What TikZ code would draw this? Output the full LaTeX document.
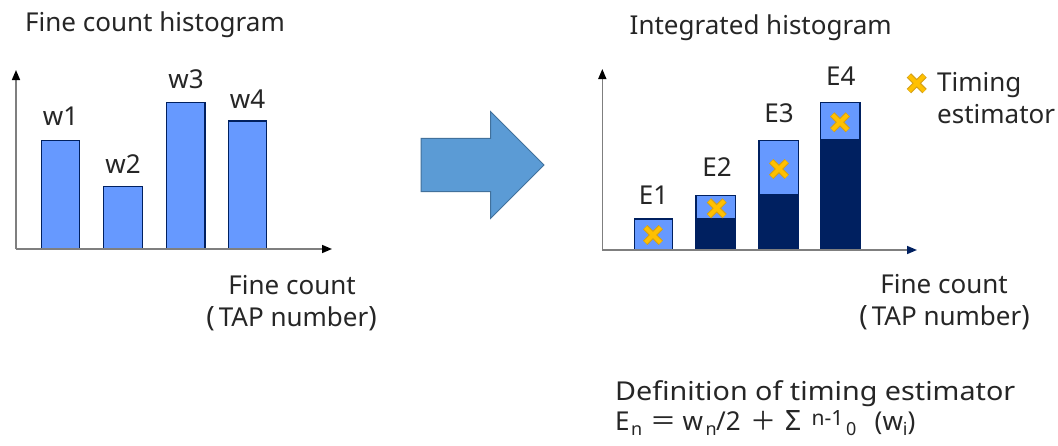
\documentclass[tikz,border=0pt]{standalone}
\usepackage{fontspec}
\setmainfont{Noto Sans}
\usetikzlibrary{arrows.meta,calc}
\definecolor{barblue}{HTML}{6699FF}
\definecolor{navy}{HTML}{002060}
\definecolor{arrowfill}{HTML}{5B9BD5}
\definecolor{arrowline}{HTML}{41719C}
\definecolor{crossfill}{HTML}{FFC000}
\definecolor{crossline}{HTML}{D4A017}
\definecolor{txt}{HTML}{262626}
\definecolor{axisgray}{HTML}{7F7F7F}
\newfontfamily\cjk{Noto Sans CJK JP}
\newcommand{\sbs}[1]{\raisebox{-5pt}{\fontsize{18}{20}\selectfont #1}}
\newcommand{\sps}[1]{\raisebox{5pt}{\fontsize{21}{23}\selectfont #1}}
\newcommand{\pc}[2]{\makebox[#1pt][l]{#2}}
\newcommand{\tapnum}{{\fontsize{28}{30}\selectfont(}\kern4pt TAP number{\fontsize{28}{30}\selectfont)}}
\begin{document}
\begin{tikzpicture}[x=1pt,y=-1pt,
  lbl/.style={font=\fontsize{26}{30}\selectfont, text=txt, inner sep=0pt, anchor=base},
  axis/.style={line width=1.5pt, draw=axisgray, -{Triangle[length=10pt,width=8pt,fill=black,color=black]}},
  barbox/.style={fill=barblue, draw=navy, line width=1.4pt},
  darkbox/.style={fill=navy, draw=navy, line width=1.4pt},
  bigarrow/.style={fill=arrowfill, draw=arrowline, line width=1pt},
]
\useasboundingbox[fill=white] (0,0) rectangle (1058,445);

% ---------------- left chart
\node[lbl, anchor=base west] (t1) at (25,31.5) {Fine count histogram};
\coordinate (o1) at (16,249);
\coordinate (y1) at (16,70);
\coordinate (x1) at (332,249);
\draw[barbox] (41.7,249) rectangle (79.3,140.7);
\draw[barbox] (103.7,249) rectangle (142.3,186.3);
\draw[barbox] (166.7,249) rectangle (205,102.3);
\draw[barbox] (228.3,249) rectangle (266.3,121);
\draw[axis] (o1) -- (y1);
\draw[axis] (o1) -- (x1);
\node[lbl] (w1) at (60.5,125) {w1};
\node[lbl] (w2) at (123,173) {w2};
\node[lbl] (w3) at (186,88.3) {w3};
\node[lbl] (w4) at (247.5,108.3) {w4};
\node[lbl, anchor=base east] (fc1) at (356,294.5) {Fine count};
\node[lbl, anchor=base east] (tap1) at (377,326) {\tapnum};

% ---------------- big arrow
\draw[bigarrow] (421,138.3) -- (490.7,138.3) -- (490.7,111.7) -- (544,165) -- (490.7,218.3) -- (490.7,191.7) -- (421,191.7) -- cycle;

% ---------------- right chart
\node[lbl, anchor=base west] (t2) at (629.5,34.7) {Integrated histogram};
\coordinate (o2) at (602.3,250);
\coordinate (y2) at (602.3,69);
\coordinate (x2) at (917,250);
\draw[barbox] (634.3,250) rectangle (672.7,219);
\draw[barbox] (696,250) rectangle (735.7,195.3);
\draw[darkbox] (696,250) rectangle (735.7,218.3);
\draw[barbox] (759,250) rectangle (798.3,140.3);
\draw[darkbox] (759,250) rectangle (798.3,195);
\draw[barbox] (820.7,250) rectangle (860,102.3);
\draw[darkbox] (820.7,250) rectangle (860,140);
\draw[axis] (o2) -- (y2);
\draw[axis, -{Triangle[length=10pt,width=8pt,fill=navy,color=navy]}] (o2) -- (x2);

\foreach \n/\cx/\cy in {c1/653/235, c2/716.7/208.3, c3/779/169, c4/840/122.3, cl/916.7/83.3}{
  \coordinate (\n) at (\cx,\cy);
  \draw[crossline, line width=6.2pt] ($(\n)+(-7.8,-7.8)$) -- ($(\n)+(7.8,7.8)$) ($(\n)+(-7.8,7.8)$) -- ($(\n)+(7.8,-7.8)$);
  \draw[crossfill, line width=4pt] ($(\n)+(-7.5,-7.5)$) -- ($(\n)+(7.5,7.5)$) ($(\n)+(-7.5,7.5)$) -- ($(\n)+(7.5,-7.5)$);
}
\node[lbl] (e1) at (653.5,204) {E1};
\node[lbl] (e2) at (717,176.7) {E2};
\node[lbl] (e3) at (779,122) {E3};
\node[lbl] (e4) at (840.7,85) {E4};
\node[lbl, anchor=base west] (tim) at (937,91.7) {Timing};
\node[lbl, anchor=base west] (est) at (937,123.5) {estimator};
\node[lbl, anchor=base east] (fc2) at (1008,293.5) {Fine count};
\node[lbl, anchor=base east] (tap2) at (1030,325) {\tapnum};

% ---------------- definition
\node[lbl, anchor=base west] (def) at (615,400) {\scalebox{1.105}[1]{Definition of timing estimator}};
\node[lbl, anchor=base west] (eq) at (615,430) {\pc{16}{E}\pc{19}{\sbs{n}}\pc{32.5}{{\cjk ＝}}\pc{23}{w}\pc{10.5}{\sbs{n}}\pc{34}{/2}\pc{35}{{\cjk ＋}}\pc{26.5}{{\fontsize{28}{30}\selectfont Σ}}\pc{34.5}{\sps{n-1}}\pc{28.5}{\sbs{0}}(w\sbs{i})};
\end{tikzpicture}
\end{document}
